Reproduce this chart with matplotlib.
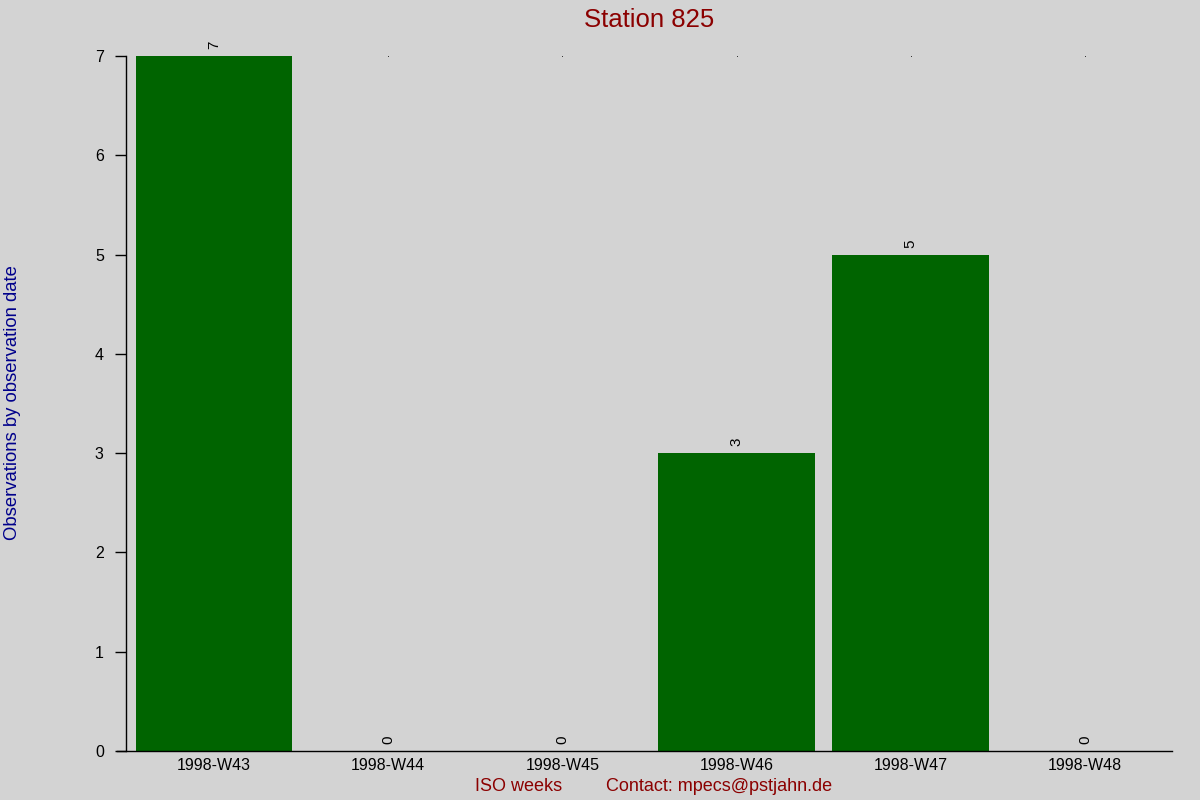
import matplotlib
matplotlib.use("Agg")
import matplotlib.pyplot as plt
import numpy as np

plt.rcParams['font.family'] = ['Liberation Sans', 'DejaVu Sans']

weeks = ["1998-W43", "1998-W44", "1998-W45", "1998-W46", "1998-W47", "1998-W48"]
counts = [7, 0, 0, 3, 5, 0]
title = "Station 825"
ylabel = "Observations by observation date"
xlabel = "ISO weeks"
contact = "Contact: mpecs@pstjahn.de"

bg = "#d3d3d3"
fig = plt.figure(figsize=(12, 8), dpi=100, facecolor=bg)
ax = fig.add_axes([0.105, 0.06125, 0.8717, 0.86875], facecolor=bg)

x = np.arange(len(weeks))
ymax = max(counts)
ax.plot(x, [ymax] * len(x), linestyle='none', marker='s', markersize=0.5,
        markeredgewidth=0, color='black', zorder=1, clip_on=False)
bars = ax.bar(x, counts, width=0.9, color="#006400", zorder=2)
for xi, v in zip(x, counts):
    ax.annotate(str(v), (xi, v), xytext=(0, 5), textcoords='offset points',
                rotation=90, ha='center', va='bottom', fontsize=11, color='black')

ax.set_xlim(-0.505, len(weeks) - 0.5)
ax.set_ylim(0, ymax)
ax.set_xticks(x)
ax.set_xticklabels(weeks, fontsize=11.5)
ax.set_yticks(range(0, ymax + 1))
ax.tick_params(axis='x', length=0, pad=5)
ax.tick_params(axis='y', length=8, width=1, pad=8, labelsize=11.5, direction='out')
for s in ['top', 'right']:
    ax.spines[s].set_visible(False)
ax.spines['left'].set_linewidth(1)
ax.spines['bottom'].set_linewidth(1)
ax.spines['bottom'].set_bounds(-0.555, len(weeks) - 0.5)

fig.text(0.541, 0.975, title, ha='center', va='center', fontsize=18.5, color="#8b0000")
fig.text(0.0105, 0.497, ylabel, ha='center', va='center', rotation=90, fontsize=13.3, color="#00008b")
fig.text(0.432, 0.017, xlabel, ha='center', va='center', fontsize=13, color="#8b0000")
fig.text(0.599, 0.017, contact, ha='center', va='center', fontsize=13, color="#8b0000")

fig.savefig("out.png", dpi=100, facecolor=bg)
